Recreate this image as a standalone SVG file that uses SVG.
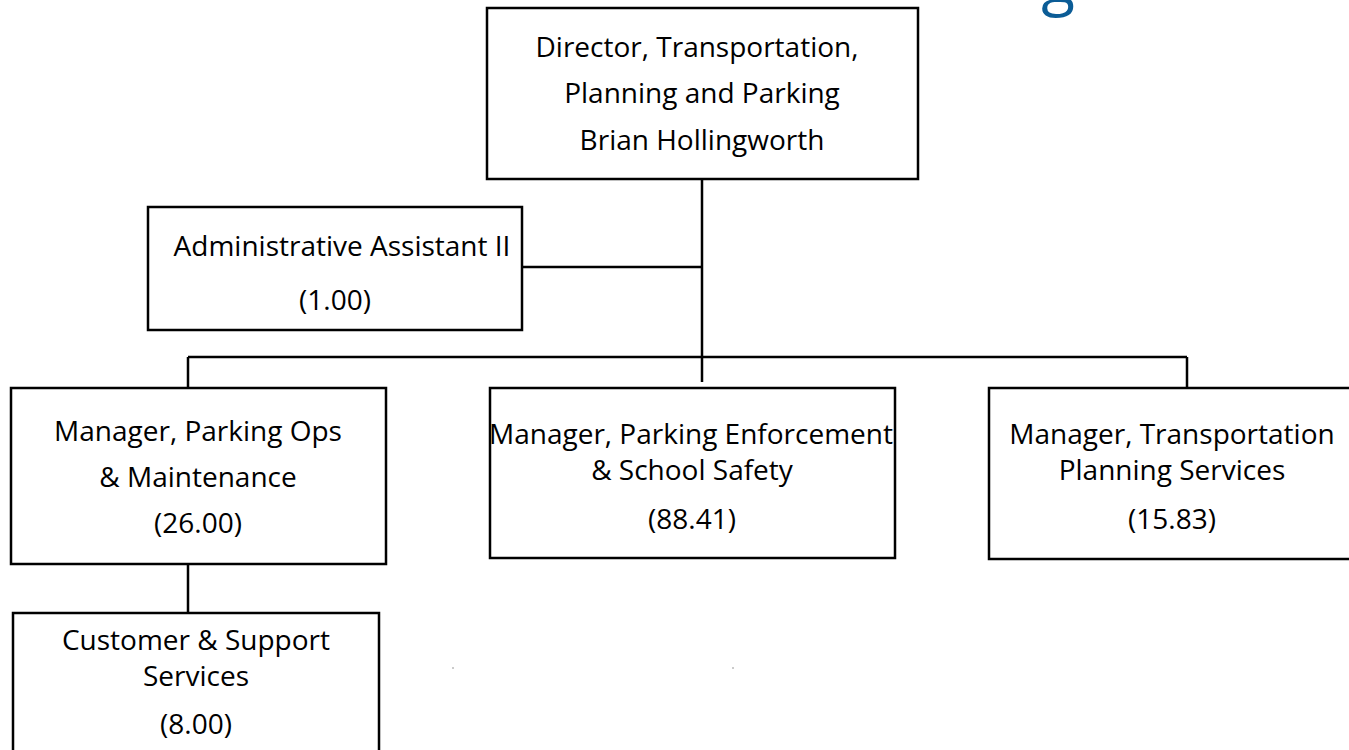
<svg xmlns="http://www.w3.org/2000/svg" width="1349" height="750" viewBox="0 0 1349 750">
<style>
.box{fill:#fff;stroke:#000;stroke-width:2.5}
.ln{stroke:#000;stroke-width:2.5;fill:none}
text{font-family:"Open Sans","Noto Sans",sans-serif;font-size:28px;fill:#000;text-anchor:middle}
</style>
<rect width="1349" height="750" fill="#fff"/>
<text x="1058" y="3" style="font-size:62px;fill:#0b5c96">g</text>
<g id="connectors">
<path class="ln" d="M702 179V382M522 267H702M188 357H1187M188 357V388M1187 357V388M188 564V613"/>
</g>
<g id="director">
<rect class="box" x="487" y="8" width="431" height="171"/>
<text x="697" y="57">Director, Transportation,</text>
<text x="702" y="103">Planning and Parking</text>
<text x="702" y="150">Brian Hollingworth</text>
</g>
<g id="admin">
<rect class="box" x="148" y="207" width="374" height="123"/>
<text x="342" y="256">Administrative Assistant II</text>
<text x="335" y="310">(1.00)</text>
</g>
<g id="parking-ops">
<rect class="box" x="11" y="388" width="375" height="176"/>
<text x="198" y="441">Manager, Parking Ops</text>
<text x="198" y="487">&amp; Maintenance</text>
<text x="198" y="533">(26.00)</text>
</g>
<g id="enforcement">
<rect class="box" x="490" y="388" width="405" height="170"/>
<text x="691" y="444">Manager, Parking Enforcement</text>
<text x="692" y="480">&amp; School Safety</text>
<text x="692" y="529">(88.41)</text>
</g>
<g id="transportation">
<rect class="box" x="989" y="388" width="380" height="171"/>
<text x="1172" y="444">Manager, Transportation</text>
<text x="1172" y="480">Planning Services</text>
<text x="1172" y="529">(15.83)</text>
</g>
<g id="customer">
<rect class="box" x="13" y="613" width="366" height="160"/>
<text x="196" y="650">Customer &amp; Support</text>
<text x="196" y="686">Services</text>
<text x="196" y="734">(8.00)</text>
</g>
<circle cx="453" cy="668" r="0.8" fill="#888"/>
<circle cx="733" cy="668" r="0.8" fill="#888"/>
</svg>
